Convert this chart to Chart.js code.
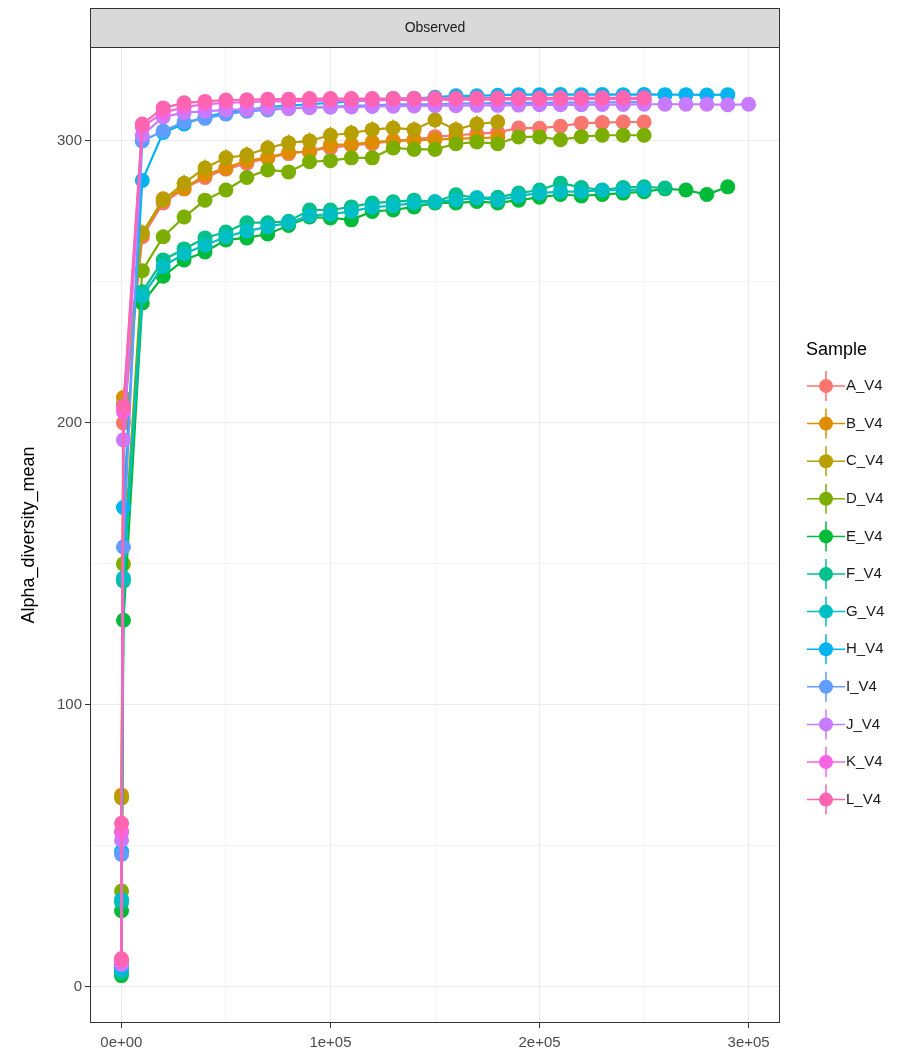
<!DOCTYPE html>
<html lang="en">
<head>
<meta charset="UTF-8">
<title>Observed - rarefaction</title>
<script src="https://cdn.jsdelivr.net/npm/chart.js"></script>
<style>
  html, body { margin: 0; padding: 0; background: #ffffff; }
  .wrap { position: relative; width: 903px; height: 1059px; }
</style>
</head>
<body>
<div class="wrap"><canvas id="rare-chart"></canvas></div>
<script>
// sequencing depths (x)
const depths = [10, 100, 1000, 10000, 20000, 30000, 40000, 50000, 60000, 70000, 80000,
  90000, 100000, 110000, 120000, 130000, 140000, 150000, 160000, 170000, 180000, 190000,
  200000, 210000, 220000, 230000, 240000, 250000, 260000, 270000, 280000, 290000, 300000];

const sampleNames = ['A_V4', 'B_V4', 'C_V4', 'D_V4', 'E_V4', 'F_V4', 'G_V4', 'H_V4', 'I_V4', 'J_V4', 'K_V4', 'L_V4'];
const sampleColors = ['#F8766D', '#DE8C00', '#B79F00', '#7CAE00', '#00BA38', '#00C08B',
  '#00BFC4', '#00B4F0', '#619CFF', '#C77CFF', '#F564E3', '#FF64B0'];

// mean observed richness per depth
const A_V4 = [8, 55, 200, 266, 278, 283, 287, 290, 292, 294, 295.5, 296.5, 297.5, 298.5, 299, 300, 300.5, 301.5, 302, 302.5, 303, 304.6, 304.5, 305.2, 306.3, 306.5, 306.7, 306.7];
const B_V4 = [9, 68, 209, 267, 279.5, 283, 288, 290.4, 293, 294, 296, 296, 298.6, 298.8, 299.6, 300, 300.2, 300.5, 300.8, 301, 301.2];
const C_V4 = [9, 67, 207, 267.4, 279, 285, 290.4, 294, 295, 297.5, 299.3, 300, 302, 302.8, 304, 304.6, 304, 307.4, 304, 306, 306.7];
const D_V4 = [7, 34, 150, 254, 266, 273, 279, 282.6, 287, 289.7, 289, 292.6, 293, 294, 294, 297.5, 297, 297, 299, 299.6, 299, 301.4, 301.4, 300.4, 301.5, 302, 302, 302];
const E_V4 = [4, 27, 130, 242.5, 252, 257.8, 260.6, 264.9, 265.6, 267, 270, 273, 272.7, 272, 275, 275.5, 276.6, 278, 278, 278.5, 278, 279, 280, 281, 280.5, 281, 281.5, 282, 283, 282.6, 281, 283.7];
const F_V4 = [5, 30, 144, 246.5, 257.8, 261.7, 265.6, 267.7, 271, 271, 271.5, 275.5, 275.5, 276.6, 278, 278.4, 279, 278.4, 280.9, 279.8, 280, 281.5, 282.6, 285, 283.5, 282.6, 283.5, 283.7, 283.3];
const G_V4 = [6, 31, 145, 245, 255.5, 260, 263, 266, 268, 269.5, 271, 273.5, 274, 275, 276.5, 277, 278, 278.4, 279, 279.8, 279, 280.5, 281.5, 282, 282, 282.5, 282.5, 282.8];
const H_V4 = [7, 48, 170, 286, 303, 306, 308.5, 310, 311, 312, 312.5, 313, 313.5, 314, 314.5, 315, 315, 315.5, 316, 316, 316.2, 316.4, 316.4, 316.5, 316.4, 316.5, 316.4, 316.5, 316.4, 316.4, 316.3, 316.4];
const I_V4 = [8, 47, 156, 300, 303.5, 306.7, 308, 309.5, 310.5, 311, 311.5, 312, 312, 312.5, 312.5, 313, 313, 313, 313.2, 313.3, 313.4, 313.5, 313.5, 313.6, 313.6, 313.7, 313.7, 313.8];
const J_V4 = [8, 52, 194, 302, 308.5, 310, 310.5, 311, 311.2, 311.5, 311.5, 311.8, 312, 312, 312.2, 312.3, 312.4, 312.5, 312.5, 312.6, 312.6, 312.7, 312.8, 312.8, 312.8, 312.9, 312.9, 313, 313, 313, 313, 312.8, 313];
const K_V4 = [9, 55, 204, 305, 310, 312, 313, 313.5, 313.8, 314, 314, 314.2, 314.3, 314.3, 314.4, 314.5, 314.5, 314.5, 314.6, 314.6, 314.6, 314.7, 314.7, 314.7, 314.8, 314.8, 314.8, 314.8];
const L_V4 = [10, 58, 206, 306, 311.7, 313.5, 314, 314.5, 314.6, 314.8, 314.8, 315, 315, 315, 315, 315, 315.1, 315.1, 315.1, 315.2, 315.2, 315.2, 315.2, 315.3, 315.3, 315.3, 315.3, 315.3];
const sampleValues = [A_V4, B_V4, C_V4, D_V4, E_V4, F_V4, G_V4, H_V4, I_V4, J_V4, K_V4, L_V4];

// typical sd of the rarefied richness, one per sample
const sampleSd = [1.5, 2, 3, 2.5, 2, 1.5, 1.5, 1, 1, 1, 1, 1];

const xTickValues = [0, 50000, 100000, 150000, 200000, 250000, 300000];
const xTickLabels = { 0: '0e+00', 100000: '1e+05', 200000: '2e+05', 300000: '3e+05' };
const yTickValues = [0, 50, 100, 150, 200, 250, 300];
const yTickLabels = { 0: '0', 100: '100', 200: '200', 300: '300' };

const FONT = "'Liberation Sans', Arial, sans-serif";
Chart.defaults.font.family = FONT;

const datasets = sampleNames.map((name, i) => ({
  label: name,
  data: sampleValues[i].map((v, j) => ({ x: depths[j], y: v })),
  borderColor: sampleColors[i],
  backgroundColor: sampleColors[i],
  borderWidth: 2.2,
  pointRadius: 7.5,
  pointHoverRadius: 7.5,
  pointBorderWidth: 0,
  tension: 0,
  order: sampleNames.length - 1 - i,
  sd: sampleSd[i]
}));

// facet strip on top of the panel
const facetStrip = {
  id: 'facetStrip',
  afterDraw(chart) {
    const { ctx, chartArea } = chart;
    ctx.save();
    const top = 8, h = chartArea.top - top;
    ctx.fillStyle = '#D9D9D9';
    ctx.fillRect(chartArea.left, top, chartArea.right - chartArea.left, h);
    ctx.strokeStyle = '#333333';
    ctx.lineWidth = 1;
    ctx.strokeRect(chartArea.left + 0.5, top + 0.5, chartArea.right - chartArea.left - 1, h);
    ctx.fillStyle = '#1A1A1A';
    ctx.font = '14px ' + FONT;
    ctx.textAlign = 'center';
    ctx.textBaseline = 'middle';
    ctx.fillText('Observed', (chartArea.left + chartArea.right) / 2, top + h / 2 + 1);
    // panel border
    ctx.strokeRect(chartArea.left + 0.5, chartArea.top + 0.5,
      chartArea.right - chartArea.left - 1, chartArea.bottom - chartArea.top - 1);
    ctx.restore();
  }
};

// vertical error bars behind the points
const errorBars = {
  id: 'errorBars',
  beforeDatasetsDraw(chart) {
    const { ctx, scales: { x, y } } = chart;
    ctx.save();
    ctx.lineWidth = 1.5;
    chart.data.datasets.forEach((ds) => {
      ctx.strokeStyle = ds.borderColor;
      ds.data.forEach((p) => {
        const px = x.getPixelForValue(p.x);
        ctx.beginPath();
        ctx.moveTo(px, y.getPixelForValue(p.y - ds.sd));
        ctx.lineTo(px, y.getPixelForValue(p.y + ds.sd));
        ctx.stroke();
      });
    });
    ctx.restore();
  }
};

// ggplot style legend at the right
const sampleLegend = {
  id: 'sampleLegend',
  afterDraw(chart) {
    const { ctx } = chart;
    ctx.save();
    ctx.fillStyle = '#000000';
    ctx.font = '18px ' + FONT;
    ctx.textAlign = 'left';
    ctx.textBaseline = 'middle';
    ctx.fillText('Sample', 806, 350);
    const kx = 826, y0 = 386, step = 37.6;
    ctx.font = '15px ' + FONT;
    sampleNames.forEach((name, i) => {
      const ky = y0 + i * step;
      ctx.strokeStyle = sampleColors[i];
      ctx.lineWidth = 1.5;
      ctx.beginPath();
      ctx.moveTo(kx - 19, ky); ctx.lineTo(kx + 19, ky);
      ctx.moveTo(kx, ky - 15); ctx.lineTo(kx, ky + 15);
      ctx.stroke();
      ctx.fillStyle = sampleColors[i];
      ctx.beginPath();
      ctx.arc(kx, ky, 7, 0, Math.PI * 2);
      ctx.fill();
      ctx.fillStyle = '#1A1A1A';
      ctx.fillText(name, kx + 20, ky);
    });
    ctx.restore();
  }
};

const ctx = document.getElementById('rare-chart').getContext('2d');
new Chart(ctx, {
  type: 'line',
  data: { datasets: datasets },
  options: {
    responsive: true,
    maintainAspectRatio: false,
    animation: false,
    layout: { padding: { left: 14, right: 123, top: 47, bottom: 0 } },
    plugins: {
      legend: { display: false },
      tooltip: { enabled: false }
    },
    scales: {
      x: {
        type: 'linear',
        min: -15000,
        max: 315000,
        afterBuildTicks: (s) => { s.ticks = xTickValues.map(v => ({ value: v })); },
        afterFit: (s) => { s.height = 36; },
        border: { display: false },
        grid: {
          color: (c) => (c.tick && xTickLabels[c.tick.value] !== undefined) ? '#EBEBEB' : '#F3F3F3',
          tickColor: (c) => (c.tick && xTickLabels[c.tick.value] !== undefined) ? '#333333' : 'rgba(0,0,0,0)',
          tickLength: 5,
          lineWidth: 1
        },
        ticks: {
          autoSkip: false,
          maxRotation: 0,
          padding: 6,
          color: '#4D4D4D',
          font: { size: 15 },
          callback: (v) => xTickLabels[v] !== undefined ? xTickLabels[v] : ''
        }
      },
      y: {
        type: 'linear',
        min: -12.8,
        max: 333.3,
        afterBuildTicks: (s) => { s.ticks = yTickValues.map(v => ({ value: v })); },
        afterFit: (s) => { s.width = 76; },
        border: { display: false },
        grid: {
          color: (c) => (c.tick && yTickLabels[c.tick.value] !== undefined) ? '#EBEBEB' : '#F3F3F3',
          tickColor: (c) => (c.tick && yTickLabels[c.tick.value] !== undefined) ? '#333333' : 'rgba(0,0,0,0)',
          tickLength: 5,
          lineWidth: 1
        },
        ticks: {
          autoSkip: false,
          padding: 3,
          color: '#4D4D4D',
          font: { size: 15 },
          callback: (v) => yTickLabels[v] !== undefined ? yTickLabels[v] : ''
        },
        title: {
          display: true,
          text: 'Alpha_diversity_mean',
          color: '#000000',
          font: { size: 18 },
          padding: { top: 4, bottom: 0 }
        }
      }
    }
  },
  plugins: [errorBars, facetStrip, sampleLegend]
});
</script>
</body>
</html>
